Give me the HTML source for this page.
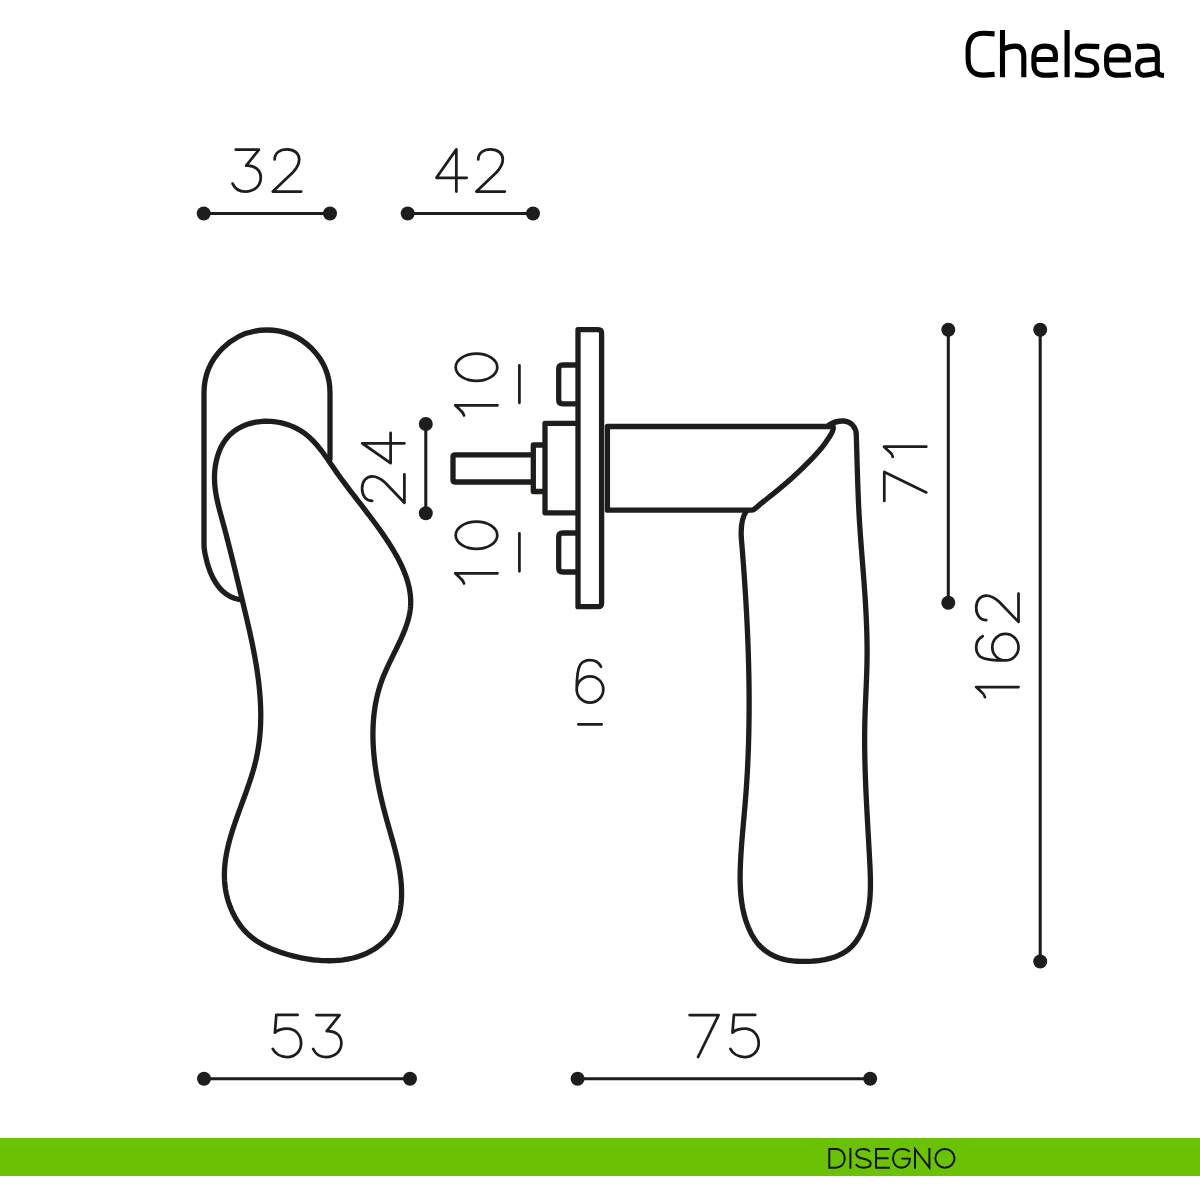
<!DOCTYPE html>
<html><head><meta charset="utf-8"><style>
html,body{margin:0;padding:0;background:#fff;width:1200px;height:1200px;overflow:hidden}
svg{display:block;position:absolute;left:0;top:0}
.title{position:absolute;left:0;top:0;font-family:"Liberation Sans",sans-serif;}
</style></head><body>
<svg width="1200" height="1200" viewBox="0 0 1200 1200">
<rect x="0" y="1138" width="1200" height="38" fill="#6bc205"/>
<g fill="none" stroke="#0d1208" stroke-width="1.95" stroke-linejoin="miter" stroke-linecap="butt">
<path d="M829.3,1149 L829.3,1167.7 L835.5,1167.7 C841.5,1167.7 844.75,1163.5 844.75,1158.35 C844.75,1153.2 841.5,1149 835.5,1149 Z"/>
<path d="M850.4,1148 L850.4,1168.7"/>
<path d="M869.8,1151.8 C868.5,1150 866,1149 863,1149 C859,1149 856.3,1151 856.3,1153.8 C856.3,1157 859,1157.8 863.5,1158.8 C868,1159.8 870.7,1161 870.7,1163.5 C870.7,1166.2 868,1167.7 863.5,1167.7 C860,1167.7 857.3,1166.3 856,1164.3"/>
<path d="M889.7,1149 L876,1149 L876,1167.7 L890,1167.7 M876,1158.3 L888.5,1158.3"/>
<path d="M909.6,1151.8 C908,1150 905,1149 901.5,1149 C896.5,1149 893,1153 893,1158.35 C893,1163.7 896.5,1167.7 901.5,1167.7 C906.5,1167.7 909.9,1164 909.9,1158.6 L901.4,1158.6"/>
<path d="M915,1168.7 L915,1149 L929.4,1167.7 L929.4,1148"/>
<ellipse cx="944.9" cy="1158.35" rx="9.6" ry="9.35"/>
</g>
<g fill="none" stroke="#000" stroke-width="5.1" stroke-linecap="butt" stroke-linejoin="round">
<path d="M994.6,33.9 L984,33.3 C973,33.1 968.1,39 968.1,50 L968.1,58.5 C968.1,69.5 973,75.2 984,75.1 L994.6,74.4"/>
<path d="M1002.5,30 L1002.5,77.2 M1002.5,49.3 C1007,47.4 1011,46.1 1015,46.1 C1021,46.1 1023.8,50 1023.8,57 L1023.8,77.2"/>
<path d="M1034,59.5 L1055.4,59.5 L1055.4,55 C1055.4,49 1052,46.1 1045,46.1 C1037,46.1 1033.9,50 1033.9,58 L1033.9,64 C1033.9,72 1037.5,75.3 1045.5,75.3 C1049.5,75.3 1053.5,75 1057.8,74.4"/>
<path d="M1067.1,30 L1067.1,77.2"/>
<path d="M1099.2,46.6 C1094.5,46.2 1090,46.1 1086,46.1 C1080,46.1 1077.3,48.5 1077.3,53 C1077.3,57.5 1080,59 1086,60 L1089,60.5 C1094.5,61.5 1096.8,64 1096.8,68.2 C1096.8,73 1093.5,75.3 1087,75.3 C1083,75.3 1079,75.1 1074.9,74.6"/>
<path d="M1106.6,60 L1128.4,60 L1128.4,55 C1128.4,49 1125,46.1 1118,46.1 C1110,46.1 1106.6,50 1106.6,58 L1106.6,64 C1106.6,72 1110.3,75.3 1118.3,75.3 C1122.3,75.3 1126.3,75 1130.8,74.4"/>
<path d="M1137,46.9 C1141,46.4 1145,46.1 1148,46.1 C1154.5,46.1 1157.3,48.5 1157.3,54 L1157.3,71 C1157.3,74 1159.5,75.3 1164,75.5 M1157.3,59.2 L1144,60.3 C1139.5,60.7 1137.6,63 1137.6,67.5 C1137.6,72.5 1140,75.2 1144,75.2 C1148,75.2 1152,74.2 1157.3,72.2"/>
</g>
<g fill="none" stroke="#1d1d1b" stroke-width="5.3" stroke-linejoin="round" stroke-linecap="round">
<path d="M239,599.5 C209,594 204,550 204,545 L204,393 A63,63 0 0 1 330,393 L330,459"/>
<path d="M264.70,421.27 L266.93,421.24 L269.17,421.29 L271.41,421.42 L273.65,421.62 L275.88,421.90 L278.10,422.25 L280.31,422.68 L282.50,423.18 L284.66,423.75 L286.80,424.39 L288.91,425.10 L290.99,425.87 L293.03,426.72 L295.03,427.63 L296.98,428.61 L298.89,429.65 L300.74,430.76 L302.54,431.93 L304.29,433.16 L305.98,434.44 L307.63,435.78 L309.23,437.17 L310.79,438.61 L312.31,440.09 L313.79,441.62 L315.24,443.18 L316.65,444.78 L318.04,446.42 L319.39,448.08 L320.73,449.77 L322.04,451.49 L323.33,453.22 L324.61,454.98 L325.87,456.75 L327.13,458.53 L328.37,460.33 L329.61,462.13 L330.84,463.93 L332.07,465.73 L333.31,467.53 L334.55,469.33 L335.79,471.12 L337.05,472.90 L338.31,474.67 L339.57,476.43 L340.85,478.19 L342.13,479.94 L343.42,481.68 L344.71,483.41 L346.01,485.15 L347.31,486.87 L348.61,488.59 L349.92,490.31 L351.24,492.03 L352.55,493.74 L353.87,495.45 L355.19,497.16 L356.51,498.87 L357.83,500.57 L359.15,502.28 L360.47,503.99 L361.79,505.70 L363.11,507.41 L364.43,509.12 L365.75,510.84 L367.06,512.56 L368.38,514.28 L369.69,516.01 L370.99,517.74 L372.29,519.48 L373.59,521.22 L374.88,522.97 L376.17,524.73 L377.46,526.49 L378.73,528.27 L380.00,530.05 L381.26,531.84 L382.52,533.64 L383.77,535.45 L385.01,537.28 L386.24,539.11 L387.46,540.96 L388.67,542.81 L389.87,544.68 L391.05,546.56 L392.22,548.46 L393.37,550.36 L394.50,552.27 L395.61,554.20 L396.69,556.13 L397.75,558.07 L398.78,560.03 L399.78,561.99 L400.76,563.96 L401.69,565.94 L402.59,567.93 L403.46,569.92 L404.29,571.93 L405.07,573.94 L405.81,575.96 L406.51,577.98 L407.16,580.01 L407.76,582.05 L408.32,584.09 L408.82,586.14 L409.26,588.20 L409.65,590.26 L409.98,592.32 L410.25,594.39 L410.46,596.47 L410.61,598.55 L410.69,600.63 L410.70,602.71 L410.65,604.80 L410.52,606.89 L410.32,608.99 L410.04,611.08 L409.69,613.18 L409.28,615.28 L408.80,617.38 L408.25,619.48 L407.66,621.58 L407.00,623.68 L406.30,625.77 L405.55,627.87 L404.77,629.96 L403.94,632.05 L403.08,634.13 L402.19,636.21 L401.27,638.28 L400.33,640.35 L399.37,642.41 L398.40,644.47 L397.41,646.52 L396.42,648.55 L395.42,650.59 L394.43,652.61 L393.43,654.62 L392.44,656.63 L391.46,658.63 L390.49,660.63 L389.53,662.62 L388.58,664.61 L387.65,666.60 L386.74,668.60 L385.85,670.59 L384.98,672.58 L384.13,674.58 L383.32,676.58 L382.53,678.59 L381.78,680.61 L381.06,682.63 L380.38,684.66 L379.72,686.70 L379.10,688.74 L378.52,690.80 L377.96,692.86 L377.44,694.92 L376.95,696.99 L376.49,699.07 L376.06,701.16 L375.65,703.25 L375.28,705.34 L374.94,707.45 L374.63,709.55 L374.34,711.67 L374.08,713.78 L373.85,715.90 L373.65,718.03 L373.47,720.16 L373.32,722.29 L373.20,724.43 L373.10,726.58 L373.02,728.72 L372.97,730.87 L372.95,733.02 L372.94,735.18 L372.96,737.33 L373.00,739.49 L373.07,741.66 L373.16,743.82 L373.26,745.99 L373.39,748.16 L373.54,750.33 L373.71,752.50 L373.90,754.67 L374.11,756.84 L374.33,759.02 L374.58,761.19 L374.84,763.36 L375.12,765.54 L375.42,767.71 L375.74,769.89 L376.07,772.06 L376.41,774.24 L376.77,776.41 L377.15,778.58 L377.54,780.75 L377.95,782.92 L378.37,785.09 L378.80,787.25 L379.24,789.41 L379.70,791.58 L380.17,793.73 L380.65,795.89 L381.14,798.04 L381.65,800.19 L382.16,802.34 L382.68,804.48 L383.21,806.62 L383.75,808.76 L384.30,810.89 L384.86,813.02 L385.43,815.14 L386.00,817.26 L386.58,819.38 L387.16,821.49 L387.75,823.59 L388.35,825.69 L388.95,827.79 L389.55,829.88 L390.15,831.97 L390.74,834.06 L391.34,836.14 L391.93,838.22 L392.52,840.31 L393.10,842.39 L393.67,844.47 L394.23,846.55 L394.78,848.63 L395.32,850.71 L395.85,852.80 L396.36,854.88 L396.86,856.97 L397.34,859.06 L397.80,861.16 L398.24,863.25 L398.66,865.36 L399.06,867.46 L399.43,869.58 L399.78,871.69 L400.10,873.82 L400.40,875.95 L400.66,878.08 L400.90,880.23 L401.10,882.38 L401.27,884.54 L401.40,886.71 L401.50,888.89 L401.56,891.08 L401.58,893.27 L401.57,895.47 L401.50,897.68 L401.39,899.88 L401.23,902.08 L401.03,904.27 L400.76,906.46 L400.44,908.63 L400.07,910.79 L399.63,912.93 L399.13,915.05 L398.56,917.14 L397.92,919.21 L397.22,921.26 L396.44,923.27 L395.58,925.24 L394.65,927.18 L393.64,929.08 L392.55,930.93 L391.37,932.74 L390.11,934.50 L388.78,936.21 L387.38,937.87 L385.91,939.49 L384.37,941.04 L382.78,942.55 L381.13,943.99 L379.42,945.38 L377.67,946.71 L375.87,947.98 L374.04,949.18 L372.16,950.32 L370.26,951.40 L368.32,952.41 L366.36,953.35 L364.37,954.23 L362.36,955.05 L360.32,955.80 L358.26,956.50 L356.19,957.13 L354.10,957.71 L351.99,958.23 L349.86,958.70 L347.73,959.12 L345.58,959.48 L343.43,959.80 L341.26,960.07 L339.09,960.29 L336.91,960.46 L334.73,960.60 L332.55,960.69 L330.37,960.74 L328.19,960.75 L326.02,960.72 L323.84,960.65 L321.67,960.55 L319.50,960.41 L317.33,960.23 L315.17,960.03 L313.01,959.78 L310.86,959.50 L308.70,959.19 L306.56,958.85 L304.41,958.48 L302.28,958.07 L300.14,957.64 L298.02,957.17 L295.89,956.68 L293.78,956.15 L291.67,955.60 L289.56,955.03 L287.47,954.43 L285.38,953.80 L283.29,953.14 L281.22,952.47 L279.15,951.76 L277.10,951.02 L275.06,950.25 L273.04,949.45 L271.04,948.61 L269.06,947.74 L267.10,946.82 L265.16,945.87 L263.25,944.87 L261.37,943.83 L259.51,942.74 L257.69,941.60 L255.90,940.42 L254.15,939.18 L252.44,937.88 L250.76,936.53 L249.13,935.13 L247.54,933.66 L246.00,932.13 L244.50,930.54 L243.05,928.89 L241.65,927.17 L240.30,925.40 L239.00,923.58 L237.76,921.71 L236.56,919.79 L235.42,917.84 L234.34,915.85 L233.31,913.82 L232.33,911.78 L231.41,909.71 L230.55,907.62 L229.74,905.51 L228.99,903.40 L228.30,901.28 L227.67,899.16 L227.10,897.04 L226.59,894.92 L226.14,892.81 L225.74,890.69 L225.39,888.58 L225.10,886.47 L224.86,884.36 L224.68,882.26 L224.54,880.15 L224.45,878.05 L224.40,875.95 L224.41,873.85 L224.45,871.75 L224.54,869.65 L224.67,867.56 L224.84,865.46 L225.05,863.37 L225.30,861.28 L225.58,859.19 L225.90,857.10 L226.25,855.01 L226.64,852.92 L227.05,850.83 L227.50,848.74 L227.97,846.66 L228.47,844.57 L229.00,842.48 L229.55,840.40 L230.13,838.31 L230.72,836.23 L231.34,834.14 L231.98,832.06 L232.63,829.98 L233.30,827.89 L233.99,825.81 L234.69,823.72 L235.40,821.64 L236.13,819.56 L236.86,817.47 L237.61,815.39 L238.36,813.30 L239.11,811.21 L239.88,809.13 L240.64,807.04 L241.41,804.95 L242.18,802.86 L242.95,800.77 L243.71,798.68 L244.48,796.59 L245.24,794.50 L245.99,792.41 L246.74,790.31 L247.48,788.22 L248.21,786.12 L248.92,784.02 L249.63,781.92 L250.32,779.82 L251.00,777.72 L251.66,775.62 L252.31,773.51 L252.93,771.40 L253.54,769.29 L254.13,767.18 L254.69,765.07 L255.23,762.96 L255.74,760.84 L256.22,758.72 L256.68,756.60 L257.12,754.48 L257.52,752.35 L257.90,750.22 L258.26,748.10 L258.59,745.96 L258.89,743.83 L259.17,741.70 L259.43,739.56 L259.66,737.42 L259.87,735.29 L260.05,733.15 L260.22,731.00 L260.36,728.86 L260.47,726.72 L260.57,724.57 L260.65,722.42 L260.70,720.27 L260.74,718.13 L260.75,715.98 L260.75,713.82 L260.73,711.67 L260.68,709.52 L260.62,707.36 L260.54,705.21 L260.44,703.06 L260.33,700.90 L260.20,698.74 L260.05,696.59 L259.89,694.43 L259.71,692.27 L259.51,690.11 L259.30,687.95 L259.07,685.80 L258.83,683.64 L258.58,681.48 L258.31,679.32 L258.03,677.16 L257.74,675.00 L257.43,672.84 L257.11,670.68 L256.78,668.52 L256.44,666.37 L256.09,664.21 L255.72,662.05 L255.35,659.89 L254.96,657.74 L254.57,655.58 L254.17,653.42 L253.76,651.27 L253.34,649.12 L252.91,646.96 L252.48,644.81 L252.03,642.66 L251.59,640.51 L251.13,638.36 L250.67,636.21 L250.20,634.06 L249.73,631.92 L249.25,629.77 L248.77,627.63 L248.28,625.48 L247.79,623.34 L247.29,621.20 L246.80,619.07 L246.30,616.93 L245.79,614.79 L245.29,612.66 L244.78,610.53 L244.28,608.40 L243.77,606.27 L243.26,604.15 L242.75,602.02 L242.24,599.90 L241.73,597.78 L241.22,595.66 L240.72,593.55 L240.21,591.43 L239.70,589.32 L239.19,587.21 L238.69,585.10 L238.18,582.99 L237.67,580.89 L237.16,578.78 L236.66,576.68 L236.15,574.58 L235.64,572.48 L235.13,570.38 L234.61,568.28 L234.10,566.18 L233.59,564.09 L233.07,561.99 L232.55,559.90 L232.03,557.80 L231.51,555.71 L230.99,553.62 L230.47,551.52 L229.94,549.43 L229.41,547.34 L228.88,545.25 L228.34,543.15 L227.81,541.06 L227.27,538.97 L226.73,536.88 L226.18,534.79 L225.63,532.69 L225.08,530.60 L224.53,528.51 L223.97,526.41 L223.41,524.32 L222.84,522.22 L222.27,520.13 L221.70,518.03 L221.13,515.93 L220.56,513.83 L219.99,511.73 L219.44,509.63 L218.90,507.52 L218.37,505.41 L217.87,503.29 L217.38,501.17 L216.92,499.04 L216.49,496.90 L216.10,494.76 L215.74,492.61 L215.42,490.46 L215.14,488.29 L214.90,486.12 L214.72,483.93 L214.58,481.74 L214.51,479.54 L214.49,477.32 L214.53,475.10 L214.63,472.87 L214.80,470.63 L215.03,468.41 L215.32,466.18 L215.69,463.97 L216.11,461.78 L216.61,459.61 L217.17,457.46 L217.80,455.34 L218.50,453.25 L219.27,451.20 L220.11,449.20 L221.02,447.24 L222.01,445.33 L223.07,443.47 L224.21,441.68 L225.42,439.95 L226.71,438.29 L228.07,436.70 L229.51,435.18 L231.03,433.75 L232.62,432.39 L234.27,431.11 L235.99,429.91 L237.77,428.78 L239.61,427.74 L241.50,426.77 L243.43,425.87 L245.42,425.06 L247.44,424.33 L249.50,423.67 L251.60,423.09 L253.73,422.59 L255.88,422.17 L258.06,421.83 L260.26,421.56 L262.47,421.38 L264.70,421.27Z"/>
<path d="M829,425 C834,421.8 839,420.9 843.5,421 C851,421.3 856.3,427.5 856.3,435 L856.30,434.99 L856.36,437.06 L856.43,439.13 L856.49,441.20 L856.55,443.26 L856.61,445.33 L856.67,447.39 L856.73,449.46 L856.79,451.53 L856.85,453.59 L856.91,455.65 L856.97,457.72 L857.02,459.78 L857.08,461.85 L857.14,463.91 L857.20,465.97 L857.26,468.04 L857.32,470.10 L857.39,472.16 L857.45,474.22 L857.51,476.29 L857.58,478.35 L857.65,480.41 L857.72,482.47 L857.79,484.53 L857.86,486.60 L857.93,488.66 L858.01,490.72 L858.09,492.78 L858.17,494.84 L858.25,496.90 L858.34,498.97 L858.43,501.03 L858.52,503.09 L858.61,505.15 L858.71,507.21 L858.81,509.27 L858.92,511.33 L859.02,513.40 L859.13,515.46 L859.25,517.52 L859.37,519.58 L859.49,521.64 L859.62,523.71 L859.75,525.77 L859.89,527.83 L860.03,529.89 L860.17,531.96 L860.31,534.02 L860.46,536.08 L860.61,538.14 L860.76,540.21 L860.91,542.27 L861.07,544.33 L861.23,546.40 L861.38,548.46 L861.55,550.52 L861.71,552.58 L861.87,554.64 L862.03,556.71 L862.19,558.77 L862.36,560.83 L862.52,562.89 L862.69,564.95 L862.85,567.01 L863.01,569.07 L863.17,571.13 L863.33,573.19 L863.49,575.25 L863.65,577.31 L863.81,579.37 L863.96,581.43 L864.12,583.49 L864.27,585.54 L864.42,587.60 L864.56,589.66 L864.71,591.71 L864.85,593.77 L864.98,595.83 L865.12,597.88 L865.25,599.94 L865.38,602.00 L865.51,604.05 L865.63,606.11 L865.75,608.16 L865.86,610.22 L865.97,612.28 L866.07,614.33 L866.18,616.39 L866.27,618.45 L866.37,620.50 L866.45,622.56 L866.53,624.62 L866.61,626.67 L866.68,628.73 L866.75,630.79 L866.81,632.85 L866.87,634.91 L866.92,636.97 L866.96,639.03 L867.00,641.09 L867.03,643.15 L867.06,645.21 L867.07,647.28 L867.08,649.34 L867.09,651.40 L867.09,653.47 L867.08,655.53 L867.06,657.60 L867.04,659.67 L867.00,661.74 L866.97,663.81 L866.92,665.88 L866.87,667.95 L866.81,670.02 L866.75,672.09 L866.68,674.16 L866.60,676.23 L866.53,678.31 L866.45,680.38 L866.36,682.45 L866.28,684.53 L866.19,686.60 L866.10,688.67 L866.01,690.75 L865.92,692.82 L865.83,694.90 L865.74,696.97 L865.65,699.04 L865.56,701.11 L865.47,703.19 L865.39,705.26 L865.31,707.33 L865.23,709.40 L865.15,711.47 L865.08,713.54 L865.01,715.61 L864.95,717.68 L864.90,719.74 L864.85,721.81 L864.80,723.87 L864.76,725.94 L864.73,728.00 L864.70,730.06 L864.68,732.12 L864.67,734.18 L864.65,736.24 L864.65,738.30 L864.65,740.36 L864.65,742.42 L864.66,744.47 L864.68,746.53 L864.69,748.59 L864.72,750.64 L864.75,752.70 L864.78,754.75 L864.81,756.80 L864.86,758.86 L864.90,760.91 L864.95,762.97 L865.00,765.02 L865.06,767.07 L865.12,769.12 L865.18,771.18 L865.25,773.23 L865.32,775.28 L865.39,777.34 L865.46,779.39 L865.54,781.44 L865.62,783.49 L865.71,785.55 L865.80,787.60 L865.89,789.66 L865.98,791.71 L866.07,793.76 L866.17,795.82 L866.27,797.88 L866.37,799.93 L866.47,801.99 L866.57,804.04 L866.68,806.10 L866.79,808.16 L866.89,810.22 L867.00,812.28 L867.12,814.34 L867.23,816.40 L867.34,818.46 L867.45,820.53 L867.57,822.59 L867.68,824.65 L867.80,826.72 L867.92,828.79 L868.03,830.85 L868.15,832.92 L868.27,834.99 L868.39,837.07 L868.50,839.14 L868.62,841.21 L868.74,843.29 L868.85,845.36 L868.97,847.44 L869.08,849.52 L869.20,851.60 L869.31,853.68 L869.42,855.77 L869.53,857.85 L869.64,859.94 L869.75,862.03 L869.86,864.12 L869.96,866.21 L870.06,868.30 L870.14,870.39 L870.22,872.48 L870.29,874.57 L870.35,876.66 L870.40,878.75 L870.43,880.83 L870.44,882.91 L870.44,884.99 L870.41,887.07 L870.37,889.14 L870.30,891.21 L870.21,893.27 L870.10,895.33 L869.96,897.38 L869.79,899.42 L869.59,901.46 L869.35,903.49 L869.09,905.52 L868.79,907.54 L868.46,909.54 L868.08,911.54 L867.67,913.53 L867.22,915.52 L866.73,917.49 L866.19,919.45 L865.61,921.40 L864.98,923.34 L864.31,925.26 L863.58,927.18 L862.81,929.08 L861.98,930.97 L861.10,932.84 L860.16,934.69 L859.16,936.50 L858.10,938.28 L856.98,940.01 L855.80,941.68 L854.54,943.30 L853.22,944.85 L851.83,946.32 L850.37,947.72 L848.86,949.05 L847.28,950.30 L845.64,951.47 L843.94,952.57 L842.20,953.59 L840.41,954.52 L838.57,955.39 L836.69,956.18 L834.77,956.90 L832.83,957.56 L830.85,958.15 L828.85,958.69 L826.84,959.17 L824.80,959.60 L822.74,959.98 L820.67,960.30 L818.59,960.58 L816.49,960.82 L814.39,961.01 L812.28,961.17 L810.16,961.28 L808.03,961.36 L805.91,961.40 L803.78,961.41 L801.65,961.39 L799.53,961.34 L797.42,961.24 L795.31,961.10 L793.21,960.91 L791.13,960.67 L789.07,960.37 L787.02,960.02 L785.00,959.61 L783.00,959.13 L781.03,958.58 L779.09,957.95 L777.17,957.26 L775.30,956.49 L773.46,955.64 L771.65,954.72 L769.90,953.74 L768.18,952.68 L766.51,951.55 L764.90,950.36 L763.33,949.10 L761.82,947.77 L760.37,946.37 L758.97,944.92 L757.64,943.39 L756.38,941.81 L755.18,940.17 L754.04,938.47 L752.97,936.72 L751.96,934.94 L751.00,933.12 L750.10,931.27 L749.24,929.40 L748.43,927.52 L747.67,925.63 L746.95,923.72 L746.28,921.79 L745.64,919.86 L745.05,917.90 L744.50,915.94 L743.99,913.97 L743.51,911.98 L743.08,909.99 L742.67,907.98 L742.31,905.97 L741.97,903.94 L741.67,901.91 L741.40,899.87 L741.16,897.82 L740.94,895.77 L740.76,893.70 L740.60,891.64 L740.47,889.57 L740.36,887.49 L740.27,885.41 L740.21,883.32 L740.16,881.24 L740.14,879.15 L740.13,877.06 L740.15,874.96 L740.17,872.87 L740.22,870.77 L740.27,868.68 L740.34,866.59 L740.42,864.49 L740.52,862.40 L740.62,860.32 L740.73,858.23 L740.84,856.15 L740.97,854.07 L741.10,851.99 L741.24,849.92 L741.38,847.85 L741.53,845.78 L741.68,843.71 L741.84,841.65 L742.01,839.58 L742.17,837.52 L742.35,835.46 L742.52,833.40 L742.70,831.35 L742.88,829.29 L743.06,827.24 L743.24,825.19 L743.42,823.13 L743.61,821.08 L743.79,819.03 L743.98,816.98 L744.16,814.93 L744.34,812.88 L744.52,810.83 L744.70,808.78 L744.88,806.74 L745.05,804.69 L745.22,802.64 L745.39,800.59 L745.56,798.54 L745.72,796.49 L745.87,794.44 L746.03,792.38 L746.17,790.33 L746.32,788.28 L746.46,786.23 L746.59,784.17 L746.73,782.12 L746.86,780.06 L746.98,778.01 L747.10,775.95 L747.22,773.90 L747.33,771.84 L747.44,769.78 L747.55,767.73 L747.65,765.67 L747.75,763.61 L747.84,761.55 L747.94,759.49 L748.02,757.43 L748.11,755.37 L748.19,753.31 L748.27,751.25 L748.34,749.19 L748.41,747.13 L748.48,745.07 L748.54,743.01 L748.60,740.95 L748.66,738.88 L748.71,736.82 L748.76,734.76 L748.81,732.69 L748.85,730.63 L748.89,728.57 L748.93,726.50 L748.96,724.44 L748.99,722.38 L749.02,720.31 L749.04,718.25 L749.06,716.18 L749.08,714.12 L749.09,712.05 L749.10,709.98 L749.11,707.92 L749.12,705.85 L749.12,703.79 L749.12,701.72 L749.11,699.65 L749.11,697.59 L749.10,695.52 L749.08,693.46 L749.07,691.39 L749.05,689.32 L749.03,687.25 L749.00,685.19 L748.98,683.12 L748.95,681.05 L748.91,678.99 L748.88,676.92 L748.84,674.85 L748.80,672.78 L748.76,670.72 L748.71,668.65 L748.66,666.58 L748.61,664.52 L748.56,662.45 L748.50,660.38 L748.44,658.31 L748.38,656.25 L748.31,654.18 L748.25,652.11 L748.18,650.05 L748.11,647.98 L748.03,645.91 L747.96,643.85 L747.88,641.78 L747.80,639.71 L747.71,637.65 L747.63,635.58 L747.54,633.52 L747.45,631.45 L747.36,629.38 L747.26,627.32 L747.16,625.25 L747.07,623.19 L746.96,621.12 L746.86,619.06 L746.76,617.00 L746.65,614.93 L746.54,612.87 L746.43,610.80 L746.31,608.74 L746.20,606.68 L746.08,604.61 L745.96,602.55 L745.84,600.49 L745.71,598.43 L745.59,596.37 L745.46,594.30 L745.33,592.24 L745.20,590.18 L745.07,588.12 L744.93,586.06 L744.80,584.00 L744.66,581.94 L744.52,579.88 L744.38,577.83 L744.23,575.77 L744.09,573.71 L743.94,571.65 L743.80,569.60 L743.65,567.54 L743.49,565.48 L743.34,563.43 L743.19,561.37 L743.03,559.32 L742.87,557.26 L742.72,555.21 L742.56,553.16 L742.39,551.10 L742.23,549.05 L742.07,547.00 L741.90,544.95 L741.73,542.90 L741.57,540.85 L741.40,538.80 L741.23,536.75 C740.8,526 742,517 746.5,511"/>
<path d="M833,426.5 L607.4,426.5 L607.4,510.2 L751.7,510.2 C755,510.2 758,505.5 764.2,501 C770,496.5 782,487 791.7,478.3 C805,466 820,451 826,442 C830,436 834,431 833.3,427.5"/>
<path d="M578,329.6 L598.1,329.6 Q601.6,329.6 601.6,333.1 L601.6,603.2 Q601.6,606.7 598.1,606.7 L578,606.7 Z"/>
<path d="M578.3,365 L562.7,365 Q558.7,365 558.7,369 L558.7,399.8 Q558.7,403.8 562.7,403.8 L578.3,403.8 M578.3,533 L562.7,533 Q558.7,533 558.7,537 L558.7,568 Q558.7,572 562.7,572 L578.3,572" stroke-linecap="butt"/>
<path d="M578.3,423.3 L545,423.3 L545,512.8 L578.3,512.8 M545,445 L533.3,445 L533.3,491.5 L545,491.5 M533.3,454.8 L455,454.8 Q453,454.8 453,456.8 L453,480 Q453,482 455,482 L533.3,482" stroke-linecap="butt"/>
</g>
<g fill="#1d1d1b" stroke="#1d1d1b" stroke-width="3.1"><line x1="203.7" y1="213.5" x2="330.0" y2="213.5"/><circle cx="203.7" cy="213.5" r="7" stroke="none"/><circle cx="330.0" cy="213.5" r="7" stroke="none"/><line x1="407.7" y1="213.5" x2="533.0" y2="213.5"/><circle cx="407.7" cy="213.5" r="7" stroke="none"/><circle cx="533.0" cy="213.5" r="7" stroke="none"/><line x1="204.0" y1="1078.7" x2="410.0" y2="1078.7"/><circle cx="204.0" cy="1078.7" r="7" stroke="none"/><circle cx="410.0" cy="1078.7" r="7" stroke="none"/><line x1="577.6" y1="1078.8" x2="870.2" y2="1078.8"/><circle cx="577.6" cy="1078.8" r="7" stroke="none"/><circle cx="870.2" cy="1078.8" r="7" stroke="none"/><line x1="425.8" y1="424.0" x2="425.8" y2="513.2"/><circle cx="425.8" cy="424.0" r="7" stroke="none"/><circle cx="425.8" cy="513.2" r="7" stroke="none"/><line x1="948.3" y1="329.7" x2="948.3" y2="602.8"/><circle cx="948.3" cy="329.7" r="7" stroke="none"/><circle cx="948.3" cy="602.8" r="7" stroke="none"/><line x1="1040.2" y1="329.7" x2="1040.2" y2="961.5"/><circle cx="1040.2" cy="329.7" r="7" stroke="none"/><circle cx="1040.2" cy="961.5" r="7" stroke="none"/></g>
<g fill="none" stroke="#1d1d1b" stroke-width="2.75" stroke-linecap="round" stroke-linejoin="round"><path transform="translate(231.3,191.6)" d="M4.5,-41.9 L27.65,-41.9 L14.85,-25.9 C23.5,-26.5 29.45,-21.5 29.45,-14 C29.45,-5.5 23,0 14,0 C8,0 3.5,-3 1.3,-8"/><path transform="translate(272.8,191.6)" d="M1.85,-32.2 C1.85,-38.5 7,-42.3 14.2,-42.3 C21.5,-42.3 26.4,-38 26.4,-32.2 C26.4,-28 23.5,-23 20.2,-19.4 L0,0 L28.4,0"/><path transform="translate(436.4,191.6)" d="M30.3,-13.8 L0,-13.8 L19.95,-42.2 L19.95,0"/><path transform="translate(476.4,191.6)" d="M1.85,-32.2 C1.85,-38.5 7,-42.3 14.2,-42.3 C21.5,-42.3 26.4,-38 26.4,-32.2 C26.4,-28 23.5,-23 20.2,-19.4 L0,0 L28.4,0"/><path transform="translate(271.5,1057.0)" d="M26.1,-42.1 L4.8,-42.1 L3.4,-24.4 C6.5,-27 10.5,-28.3 15.5,-28.3 C24,-28.3 29.6,-22 29.6,-13.8 C29.6,-5.5 23.5,0 15.5,0 C9,0 3.5,-3.5 1.3,-8.1"/><path transform="translate(311.9,1057.0)" d="M4.5,-41.9 L27.65,-41.9 L14.85,-25.9 C23.5,-26.5 29.45,-21.5 29.45,-14 C29.45,-5.5 23,0 14,0 C8,0 3.5,-3 1.3,-8"/><path transform="translate(689.0,1057.0)" d="M0.6,-42 L29.6,-42 L9.1,0"/><path transform="translate(729.1,1057.0)" d="M26.1,-42.1 L4.8,-42.1 L3.4,-24.4 C6.5,-27 10.5,-28.3 15.5,-28.3 C24,-28.3 29.6,-22 29.6,-13.8 C29.6,-5.5 23.5,0 15.5,0 C9,0 3.5,-3.5 1.3,-8.1"/><path transform="translate(575.4,702.5)" d="M1.3,-13.1 A13.3,13.1 0 1 0 27.9,-13.1 A13.3,13.1 0 1 0 1.3,-13.1 C1.3,-24 1.8,-33 5,-38 C7.5,-41.2 10.5,-42.3 14.6,-42.3 C19.5,-42.3 23.2,-40.5 25.6,-35.8"/><path transform="translate(926.3,501.5) rotate(-90)" d="M0.6,-42 L29.6,-42 L9.1,0"/><path transform="translate(926.3,456.7) rotate(-90)" d="M-0.2,-33.5 C2,-34 4,-35.5 5.5,-37.5 L10,-42.3 L10,0"/><path transform="translate(1018.5,697.0) rotate(-90)" d="M-0.2,-33.5 C2,-34 4,-35.5 5.5,-37.5 L10,-42.3 L10,0"/><path transform="translate(1018.5,661.8) rotate(-90)" d="M1.3,-13.1 A13.3,13.1 0 1 0 27.9,-13.1 A13.3,13.1 0 1 0 1.3,-13.1 C1.3,-24 1.8,-33 5,-38 C7.5,-41.2 10.5,-42.3 14.6,-42.3 C19.5,-42.3 23.2,-40.5 25.6,-35.8"/><path transform="translate(1018.5,621.9) rotate(-90)" d="M1.85,-32.2 C1.85,-38.5 7,-42.3 14.2,-42.3 C21.5,-42.3 26.4,-38 26.4,-32.2 C26.4,-28 23.5,-23 20.2,-19.4 L0,0 L28.4,0"/><path transform="translate(404.4,502.7) rotate(-90)" d="M1.85,-32.2 C1.85,-38.5 7,-42.3 14.2,-42.3 C21.5,-42.3 26.4,-38 26.4,-32.2 C26.4,-28 23.5,-23 20.2,-19.4 L0,0 L28.4,0"/><path transform="translate(404.4,463.2) rotate(-90)" d="M30.3,-13.8 L0,-13.8 L19.95,-42.2 L19.95,0"/><path transform="translate(497.5,415.3) rotate(-90)" d="M-0.2,-33.5 C2,-34 4,-35.5 5.5,-37.5 L10,-42.3 L10,0"/><path transform="translate(497.5,381.6) rotate(-90)" d="M0.7,-21 A13.65,20.8 0 1 0 28.0,-21 A13.65,20.8 0 1 0 0.7,-21"/><path transform="translate(497.5,583.3) rotate(-90)" d="M-0.2,-33.5 C2,-34 4,-35.5 5.5,-37.5 L10,-42.3 L10,0"/><path transform="translate(497.5,549.6) rotate(-90)" d="M0.7,-21 A13.65,20.8 0 1 0 28.0,-21 A13.65,20.8 0 1 0 0.7,-21"/><path d="M519.4,365.3 L519.4,402.8 M519.4,533.3 L519.4,571.3 M578.3,724.3 L601.7,724.3"/></g>
</svg>
</body></html>
